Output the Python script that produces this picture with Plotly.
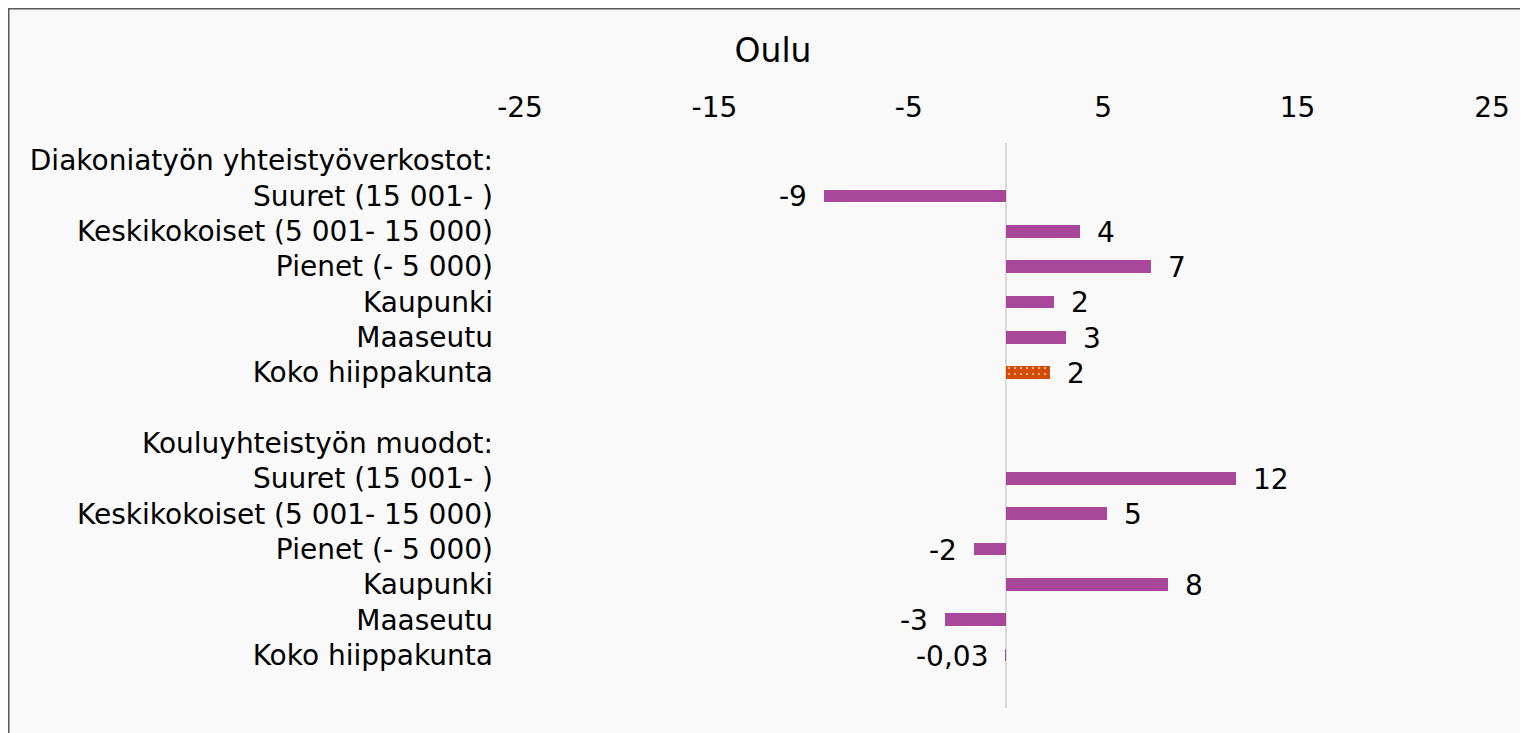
import plotly.graph_objects as go

# ---- data ----
categories = [
    "Diakoniatyön yhteistyöverkostot:",
    "Suuret (15 001- )",
    "Keskikokoiset (5 001- 15 000)",
    "Pienet (- 5 000)",
    "Kaupunki",
    "Maaseutu",
    "Koko hiippakunta",
    "",
    "Kouluyhteistyön muodot:",
    "Suuret (15 001- )",
    "Keskikokoiset (5 001- 15 000)",
    "Pienet (- 5 000)",
    "Kaupunki",
    "Maaseutu",
    "Koko hiippakunta",
]
values = [None, -9.37, 3.83, 7.45, 2.46, 3.11, 2.25, None,
          None, 11.84, 5.22, -1.67, 8.34, -3.15, -0.03]
value_labels = ["", "-9", "4", "7", "2", "3", "2", "",
                "", "12", "5", "-2", "8", "-3", "-0,03"]
highlight = [False, False, False, False, False, False, True, False,
             False, False, False, False, False, False, False]
x_ticks = [-25, -15, -5, 5, 15, 25]

PURPLE = "#A9489B"
ORANGE = "#D14B02"
BG = "#F9F9F9"
FONT = "DejaVu Sans"
FS = 28

# figure geometry (the page body adds an 8px offset)
W, H = 1528, 733
ML, MR, MT, MB = 512, 44, 135, 33
PW, PH = W - ML - MR, H - MT - MB

idx = list(range(len(categories)))

fig = go.Figure()

fig.add_trace(go.Bar(
    y=[i for i in idx if not highlight[i]],
    x=[values[i] for i in idx if not highlight[i]],
    orientation="h",
    width=0.36,
    marker=dict(color=PURPLE, line=dict(width=0)),
    hoverinfo="x",
    showlegend=False,
))
fig.add_trace(go.Bar(
    y=[i for i in idx if highlight[i]],
    x=[values[i] for i in idx if highlight[i]],
    orientation="h",
    width=0.36,
    marker=dict(color=ORANGE, line=dict(width=0),
                pattern=dict(shape=".", fillmode="overlay", fgcolor="white",
                             bgcolor=ORANGE, size=6, solidity=0.15)),
    hoverinfo="x",
    showlegend=False,
))

# data labels
for i in idx:
    v = values[i]
    if v is None:
        continue
    pos = v > 0
    fig.add_annotation(
        x=v, y=i, xref="x", yref="y",
        text=value_labels[i], showarrow=False,
        xanchor="left" if pos else "right",
        xshift=15 if pos else -15,
        yshift=-1,
        font=dict(family=FONT, size=FS, color="#000000"),
    )

# chart-area frame
fig.add_shape(type="rect", xref="paper", yref="paper",
              x0=(0.75 - ML) / PW, x1=1.2, y0=-0.2, y1=1 + (MT - 0.75) / PH,
              line=dict(color="#595959", width=1.5), fillcolor="rgba(0,0,0,0)",
              layer="below")

fig.update_layout(
    width=W, height=H,
    paper_bgcolor=BG, plot_bgcolor=BG,
    margin=dict(l=ML, r=MR, t=MT, b=MB),
    bargap=0,
    title=dict(text="Oulu", x=765 / W, xanchor="center",
               y=1 - 42 / H, yanchor="middle",
               font=dict(family=FONT, size=33, color="#000000")),
    font=dict(family=FONT, size=FS, color="#000000"),
    xaxis=dict(
        side="top", range=[-25, 25], tickvals=x_ticks,
        ticktext=[str(t) for t in x_ticks],
        showgrid=False, zeroline=True, zerolinecolor="#D9D9D9", zerolinewidth=1.5,
        showline=False, ticks="", ticklabelstandoff=19,
        tickfont=dict(family=FONT, size=FS, color="#000000"),
        fixedrange=True,
    ),
    yaxis=dict(
        range=[15.5, -0.5], tickvals=idx, ticktext=categories,
        showgrid=False, zeroline=False, showline=False, ticks="",
        ticklabelstandoff=26,
        tickfont=dict(family=FONT, size=FS, color="#000000"),
        fixedrange=True,
    ),
)

fig.write_html("out.html")
